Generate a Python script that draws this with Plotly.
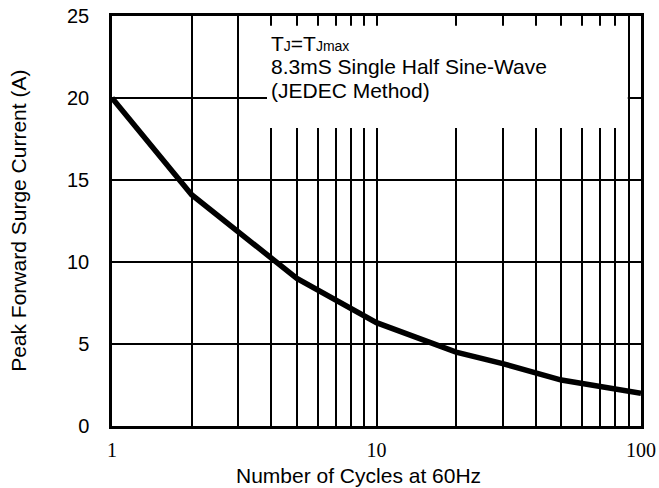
import plotly.graph_objects as go

# Data
cycles = [1, 2, 5, 10, 20, 30, 50, 100]
current = [20.0, 14.1, 9.0, 6.3, 4.5, 3.8, 2.8, 2.0]

grid_vals = [1, 2, 3, 4, 5, 6, 7, 8, 9, 10, 20, 30, 40, 50, 60, 70, 80, 90, 100]
grid_text = ["1", "", "", "", "", "", "", "", "", "10", "", "", "", "", "", "", "", "", "100"]
y_ticks = [0, 5, 10, 15, 20, 25]

x_title = "Number of Cycles at 60Hz"
y_title = "Peak Forward Surge Current (A)"
note_lines = [
    'T<span style="font-size:14px">J</span>=T<span style="font-size:14px">Jmax</span>',
    "8.3mS Single Half Sine-Wave",
    "(JEDEC Method)",
]
note_y = [0.934, 0.876, 0.8195]

fig = go.Figure()
fig.add_trace(go.Scatter(
    x=cycles, y=current, mode="lines",
    line=dict(color="black", width=5.5),
    hoverinfo="skip", showlegend=False,
))

fig.update_layout(
    width=659, height=488,
    margin=dict(l=112, r=18, t=16, b=62),
    paper_bgcolor="white", plot_bgcolor="white",
    font=dict(family="Liberation Sans, Arial", color="black", size=21),
    xaxis=dict(
        type="log", range=[0, 2], automargin=False,
        tickmode="array", tickvals=grid_vals, ticktext=grid_text,
        ticks="", ticklen=0, ticklabelstandoff=4,
        tickfont=dict(family="Liberation Serif, Times New Roman", size=20, color="black"),
        showgrid=True, gridcolor="black", gridwidth=1.5,
        showline=True, linecolor="black", linewidth=2.5, mirror=True,
        zeroline=False,
    ),
    yaxis=dict(
        range=[0, 25], tickmode="array", tickvals=y_ticks, automargin=False,
        ticks="", ticklen=0, ticklabelstandoff=16,
        tickfont=dict(family="Liberation Sans, Arial", size=20, color="black"),
        showgrid=True, gridcolor="black", gridwidth=1.5,
        showline=True, linecolor="black", linewidth=2.5, mirror=True,
        zeroline=False,
    ),
)

# white box behind the note (covers grid lines; the curve never reaches it)
fig.add_shape(type="rect", xref="paper", yref="paper",
              x0=0.293, x1=0.975, y0=0.727, y1=0.976,
              fillcolor="white", line=dict(width=0), layer="above")

for line_text, yy in zip(note_lines, note_y):
    fig.add_annotation(
        xref="paper", yref="paper", x=0.297, y=yy,
        xanchor="left", yanchor="middle", align="left", showarrow=False,
        text=line_text,
        font=dict(family="Liberation Sans, Arial", size=21, color="black"),
    )

fig.add_annotation(
    xref="paper", yref="paper", x=0.466, y=-0.121,
    xanchor="center", yanchor="middle", showarrow=False,
    text=x_title, font=dict(size=21),
)
fig.add_annotation(
    xref="paper", yref="paper", x=-0.178, y=0.5,
    xanchor="center", yanchor="middle", showarrow=False, textangle=-90,
    text=y_title, font=dict(size=21),
)

fig.write_html("out.html")
